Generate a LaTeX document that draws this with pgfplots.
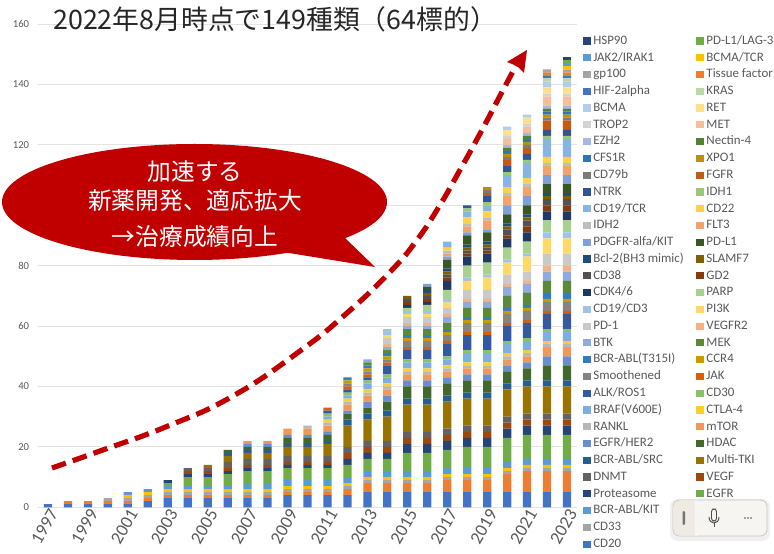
\documentclass[border=0pt]{standalone}
\usepackage{fontspec}
\usepackage{pgfplots}
\usepackage{pgfplotstable}
\pgfplotsset{compat=1.18}
\setmainfont{Carlito}
\newfontfamily\cjk{Noto Sans CJK JP}
\definecolor{txt}{HTML}{595959}
\definecolor{gridc}{HTML}{E3E3E3}
\definecolor{dred}{HTML}{C00000}
\definecolor{barL}{HTML}{EFEBE3}
\definecolor{barR}{HTML}{F7F5F1}
\def\dc#1#2{\definecolor{c#1}{HTML}{#2}}
\dc{1}{4472C4}\dc{2}{ED7D31}\dc{3}{A5A5A5}\dc{4}{FFC000}\dc{5}{5B9BD5}\dc{6}{70AD47}
\dc{7}{264478}\dc{8}{9E480E}\dc{9}{636363}\dc{10}{997300}\dc{11}{255E91}\dc{12}{43682B}
\dc{13}{698ED0}\dc{14}{F1975A}\dc{15}{B7B7B7}\dc{16}{FFCD33}\dc{17}{7CAFDD}\dc{18}{8CC168}
\dc{19}{335AA1}\dc{20}{D26012}\dc{21}{848484}\dc{22}{CC9A00}\dc{23}{327DC2}\dc{24}{5A8A39}
\dc{25}{8FAADC}\dc{26}{F4B183}\dc{27}{C9C9C9}\dc{28}{FFD966}\dc{29}{9DC3E6}\dc{30}{A9D18E}
\dc{31}{203864}\dc{32}{843C0C}\dc{33}{525252}\dc{34}{7F6000}\dc{35}{1F4E79}\dc{36}{385723}
\dc{37}{7F9FD8}\dc{38}{F4A26C}\dc{39}{BEBEBE}\dc{40}{FFD146}\dc{41}{85B5E0}\dc{42}{98C878}
\dc{43}{2F5597}\dc{44}{C55A11}\dc{45}{7B7B7B}\dc{46}{BF9000}\dc{47}{2E75B6}\dc{48}{548235}
\dc{49}{A5B8E3}\dc{50}{F6BE9A}\dc{51}{D3D3D3}\dc{52}{FFE08A}\dc{53}{B0CEEB}\dc{54}{B8D9A4}
\dc{55}{4472C4}\dc{56}{ED7D31}\dc{57}{A5A5A5}\dc{58}{FFC000}\dc{59}{5B9BD5}\dc{60}{70AD47}
\dc{61}{264478}
\pgfplotstableread[header=false]{
1997 1 0 0 0 0 0 0 0 0 0  0 0 0 0 0 0 0 0 0 0  0 0 0 0 0 0 0 0 0 0  0 0 0 0 0 0 0 0 0 0  0 0 0 0 0 0 0 0 0 0  0 0 0 0 0 0 0 0 0 0  0
1998 1 1 0 0 0 0 0 0 0 0  0 0 0 0 0 0 0 0 0 0  0 0 0 0 0 0 0 0 0 0  0 0 0 0 0 0 0 0 0 0  0 0 0 0 0 0 0 0 0 0  0 0 0 0 0 0 0 0 0 0  0
1999 1 1 0 0 0 0 0 0 0 0  0 0 0 0 0 0 0 0 0 0  0 0 0 0 0 0 0 0 0 0  0 0 0 0 0 0 0 0 0 0  0 0 0 0 0 0 0 0 0 0  0 0 0 0 0 0 0 0 0 0  0
2000 1 1 1 0 0 0 0 0 0 0  0 0 0 0 0 0 0 0 0 0  0 0 0 0 0 0 0 0 0 0  0 0 0 0 0 0 0 0 0 0  0 0 0 0 0 0 0 0 0 0  0 0 0 0 0 0 0 0 0 0  0
2001 1 1 1 1 1 0 0 0 0 0  0 0 0 0 0 0 0 0 0 0  0 0 0 0 0 0 0 0 0 0  0 0 0 0 0 0 0 0 0 0  0 0 0 0 0 0 0 0 0 0  0 0 0 0 0 0 0 0 0 0  0
2002 2 1 1 1 1 0 0 0 0 0  0 0 0 0 0 0 0 0 0 0  0 0 0 0 0 0 0 0 0 0  0 0 0 0 0 0 0 0 0 0  0 0 0 0 0 0 0 0 0 0  0 0 0 0 0 0 0 0 0 0  0
2003 3 1 1 1 1 1 1 0 0 0  0 0 0 0 0 0 0 0 0 0  0 0 0 0 0 0 0 0 0 0  0 0 0 0 0 0 0 0 0 0  0 0 0 0 0 0 0 0 0 0  0 0 0 0 0 0 0 0 0 0  0
2004 3 1 1 1 1 3 1 1 1 0  0 0 0 0 0 0 0 0 0 0  0 0 0 0 0 0 0 0 0 0  0 0 0 0 0 0 0 0 0 0  0 0 0 0 0 0 0 0 0 0  0 0 0 0 0 0 0 0 0 0  0
2005 3 1 1 1 1 3 1 1 1 1  0 0 0 0 0 0 0 0 0 0  0 0 0 0 0 0 0 0 0 0  0 0 0 0 0 0 0 0 0 0  0 0 0 0 0 0 0 0 0 0  0 0 0 0 0 0 0 0 0 0  0
2006 3 1 1 1 1 4 1 1 2 2  1 1 0 0 0 0 0 0 0 0  0 0 0 0 0 0 0 0 0 0  0 0 0 0 0 0 0 0 0 0  0 0 0 0 0 0 0 0 0 0  0 0 0 0 0 0 0 0 0 0  0
2007 3 1 1 1 2 4 1 1 2 2  1 1 1 1 0 0 0 0 0 0  0 0 0 0 0 0 0 0 0 0  0 0 0 0 0 0 0 0 0 0  0 0 0 0 0 0 0 0 0 0  0 0 0 0 0 0 0 0 0 0  0
2008 3 1 1 1 2 4 1 1 2 2  1 1 1 1 0 0 0 0 0 0  0 0 0 0 0 0 0 0 0 0  0 0 0 0 0 0 0 0 0 0  0 0 0 0 0 0 0 0 0 0  0 0 0 0 0 0 0 0 0 0  0
2009 4 1 1 1 2 4 1 1 2 3  1 2 1 2 0 0 0 0 0 0  0 0 0 0 0 0 0 0 0 0  0 0 0 0 0 0 0 0 0 0  0 0 0 0 0 0 0 0 0 0  0 0 0 0 0 0 0 0 0 0  0
2010 4 1 1 1 2 4 1 1 2 3  1 2 1 2 1 0 0 0 0 0  0 0 0 0 0 0 0 0 0 0  0 0 0 0 0 0 0 0 0 0  0 0 0 0 0 0 0 0 0 0  0 0 0 0 0 0 0 0 0 0  0
2011 4 1 1 1 2 4 1 1 2 4  1 2 1 2 1 1 1 1 1 1  0 0 0 0 0 0 0 0 0 0  0 0 0 0 0 0 0 0 0 0  0 0 0 0 0 0 0 0 0 0  0 0 0 0 0 0 0 0 0 0  0
2012 4 2 1 1 2 4 2 2 2 7  2 2 1 2 1 1 1 1 1 1  1 1 1 0 0 0 0 0 0 0  0 0 0 0 0 0 0 0 0 0  0 0 0 0 0 0 0 0 0 0  0 0 0 0 0 0 0 0 0 0  0
2013 5 3 1 1 2 4 2 2 2 7  2 2 2 2 1 1 2 1 1 1  1 1 1 1 1 0 0 0 0 0  0 0 0 0 0 0 0 0 0 0  0 0 0 0 0 0 0 0 0 0  0 0 0 0 0 0 0 0 0 0  0
2014 5 3 1 1 2 4 2 2 2 8  2 3 2 2 1 1 2 1 3 1  1 1 1 1 1 1 2 1 2 0  0 0 0 0 0 0 0 0 0 0  0 0 0 0 0 0 0 0 0 0  0 0 0 0 0 0 0 0 0 0  0
2015 5 3 1 1 2 6 3 2 2 9  2 4 2 2 1 1 2 1 3 1  2 1 1 2 1 1 2 1 1 1  1 1 1 1 0 0 0 0 0 0  0 0 0 0 0 0 0 0 0 0  0 0 0 0 0 0 0 0 0 0  0
2016 5 3 1 1 2 6 3 2 2 9  2 4 2 2 1 1 2 1 3 1  2 1 1 2 1 1 2 1 1 2  1 1 1 1 1 1 1 0 0 0  0 0 0 0 0 0 0 0 0 0  0 0 0 0 0 0 0 0 0 0  0
2017 5 4 1 1 2 6 3 2 2 9  2 4 2 2 1 1 2 1 4 1  2 1 1 2 2 1 2 2 1 3  3 1 1 1 1 3 1 1 1 1  2 0 0 0 0 0 0 0 0 0  0 0 0 0 0 0 0 0 0 0  0
2018 5 4 1 1 2 7 3 2 2 9  2 4 2 2 1 1 3 1 5 1  3 1 1 3 2 1 3 3 1 4  3 1 1 1 1 3 1 2 1 2  2 1 1 0 0 0 0 0 0 0  0 0 0 0 0 0 0 0 0 0  0
2019 5 4 1 1 2 7 3 2 2 9  2 4 2 2 1 1 3 1 5 1  3 1 1 3 2 1 3 4 1 4  3 1 1 1 1 3 1 3 1 2  2 1 2 1 1 1 0 0 0 0  0 0 0 0 0 0 0 0 0 0  0
2020 5 6 1 1 2 8 3 2 2 9  2 4 2 2 1 1 3 1 5 1  3 1 1 4 3 1 3 4 1 4  3 1 2 1 1 3 3 3 1 2  4 1 2 2 1 1 1 1 1 2  1 2 1 0 0 0 0 0 0 0  0
2021 5 7 1 1 2 8 3 2 2 9  2 4 2 2 1 1 3 1 5 1  3 1 1 4 3 1 3 5 1 4  3 2 2 1 1 3 3 3 1 2  5 1 2 2 1 1 1 1 1 2  1 2 1 0 0 0 0 0 0 0  0
2022 5 7 1 1 2 8 3 2 2 9  2 5 3 3 1 1 3 1 5 1  3 1 2 4 3 2 4 5 2 4  3 2 2 1 1 3 3 3 1 2  6 1 2 3 1 1 1 1 1 3  1 2 2 1 1 1 1 0 0 0  0
2023 5 7 1 1 2 8 3 2 2 9  2 5 3 3 1 1 3 1 5 1  3 1 2 4 3 2 4 5 2 4  3 2 2 1 1 3 3 3 1 2  6 1 2 3 1 1 1 1 1 3  1 2 2 1 1 1 1 1 1 1  1
}\datatable
\pgfplotsset{swatch/.style={legend image code/.code={\fill[##1] (0pt,-2.7pt) rectangle (5.4pt,2.7pt);}}}
\newcommand\addser[2]{\addplot[fill=c#1,draw=none,swatch] table[x index=0,y index=#1]{\datatable};\addlegendentry{#2}}
\begin{document}
\begin{tikzpicture}
\useasboundingbox (0,0) rectangle (580.5pt,414.75pt);
\begin{axis}[
  at={(28.5pt,34.3pt)}, anchor=south west,
  scale only axis, width=404.25pt, height=362.4pt,
  ybar stacked, bar width=6.2pt,
  xmin=1996.5, xmax=2023.5, ymin=0, ymax=160,
  xtick={1997,1999,...,2023}, ytick={0,20,...,160},
  major tick length=0pt,
  axis line style={draw=none},
  ymajorgrids, grid style={color=gridc, line width=0.8pt},
  /pgf/number format/assume math mode=true,
  /pgf/number format/1000 sep={},
  x tick label style={rotate=60, anchor=east, text=txt, font=\fontsize{13.5}{14}\selectfont, inner sep=0pt, yshift=-5pt},
  y tick label style={text=txt, font=\fontsize{8}{9}\selectfont, inner sep=0pt, xshift=-6.5pt},
  reverse legend, legend columns=2, legend cell align=left,
  legend style={at={(1.0038,0.9835)}, anchor=north west, draw=none, fill=none,
    font=\fontsize{9.7}{10}\selectfont, text=txt,
    nodes={inner sep=0pt, text height=7pt, text depth=2pt},
    row sep=3.58pt,
    /tikz/every odd column/.style={column sep=2.1pt},
    /tikz/every even column/.style={column sep=9.5pt},
  },
]
\addser{1}{CD20}
\addser{2}{HER2}
\addser{3}{CD33}
\addser{4}{BCR-ABL}
\addser{5}{BCR-ABL/KIT}
\addser{6}{EGFR}
\addser{7}{Proteasome}
\addser{8}{VEGF}
\addser{9}{DNMT}
\addser{10}{Multi-TKI}
\addser{11}{BCR-ABL/SRC}
\addser{12}{HDAC}
\addser{13}{EGFR/HER2}
\addser{14}{mTOR}
\addser{15}{RANKL}
\addser{16}{CTLA-4}
\addser{17}{BRAF(V600E)}
\addser{18}{CD30}
\addser{19}{ALK/ROS1}
\addser{20}{JAK}
\addser{21}{Smoothened}
\addser{22}{CCR4}
\addser{23}{BCR-ABL(T315I)}
\addser{24}{MEK}
\addser{25}{BTK}
\addser{26}{VEGFR2}
\addser{27}{PD-1}
\addser{28}{PI3K}
\addser{29}{CD19/CD3}
\addser{30}{PARP}
\addser{31}{CDK4/6}
\addser{32}{GD2}
\addser{33}{CD38}
\addser{34}{SLAMF7}
\addser{35}{Bcl-2(BH3 mimic)}
\addser{36}{PD-L1}
\addser{37}{PDGFR-alfa/KIT}
\addser{38}{FLT3}
\addser{39}{IDH2}
\addser{40}{CD22}
\addser{41}{CD19/TCR}
\addser{42}{IDH1}
\addser{43}{NTRK}
\addser{44}{FGFR}
\addser{45}{CD79b}
\addser{46}{XPO1}
\addser{47}{CFS1R}
\addser{48}{Nectin-4}
\addser{49}{EZH2}
\addser{50}{MET}
\addser{51}{TROP2}
\addser{52}{RET}
\addser{53}{BCMA}
\addser{54}{KRAS}
\addser{55}{HIF-2alpha}
\addser{56}{Tissue factor}
\addser{57}{gp100}
\addser{58}{BCMA/TCR}
\addser{59}{JAK2/IRAK1}
\addser{60}{PD-L1/LAG-3}
\addser{61}{HSP90}
\end{axis}
\begin{scope}[shift={(0,414.75pt)},x=0.75pt,y=-0.75pt]
% title
\node[anchor=west,inner sep=0pt,text=black!85] at (53,19) {\cjk\fontsize{20.1}{21}\selectfont 2022年8月時点で149種類（64標的）};
% bubble
\fill[dred] (194.5,202) ellipse [x radius=192.5, y radius=58];
\fill[dred] (345,238) -- (375,267) -- (289,253) -- (250,240) -- cycle;
\node[text=white,inner sep=0pt] at (195,172) {\cjk\fontsize{17.8}{18}\selectfont 加速する};
\node[text=white,inner sep=0pt] at (195,201) {\cjk\fontsize{17.8}{18}\selectfont 新薬開発、適応拡大};
\node[text=white,inner sep=0pt] at (195,237) {\cjk\fontsize{17.8}{18}\selectfont →治療成績向上};
% arrow
\def\arrowpath{plot[smooth, tension=0.8] coordinates {(52,468) (100,451) (168,426) (233,396) (300,351) (347,313) (390,272) (417,240) (440,205) (460,170) (482,130) (502,92) (518,62)}}
\draw[white, line width=5.2pt, dash pattern=on 11pt off 5.5pt] \arrowpath;
\draw[dred, line width=3.9pt, dash pattern=on 11pt off 5.5pt, line cap=butt] \arrowpath;
\fill[dred] (527,50) -- (507,62) -- (517,66) -- (524,73) -- cycle;
% floating toolbar
\fill[black!6, rounded corners=6pt] (670,499) rectangle (770,541);
\fill[barR, draw=black!22, line width=0.6pt, rounded corners=5pt] (673,500) rectangle (767,536);
\fill[barL, rounded corners=5pt] (673.4,500.4) rectangle (697,535.6);
\fill[barR] (695,500.4) rectangle (697,535.6);
\fill[black!55, rounded corners=0.8pt] (682.5,511) rectangle (685,525);
\draw[black!70, line width=0.7pt, rounded corners=2pt] (711.5,509) rectangle (716.5,521);
\draw[black!70, line width=0.7pt] (709,517) .. controls (709,525) and (719,525) .. (719,517);
\draw[black!70, line width=0.7pt] (714,523) -- (714,527);
\foreach \xx in {745,748,751} \fill[black!70] (\xx,518) circle (0.8);
\end{scope}
\end{tikzpicture}
\end{document}
